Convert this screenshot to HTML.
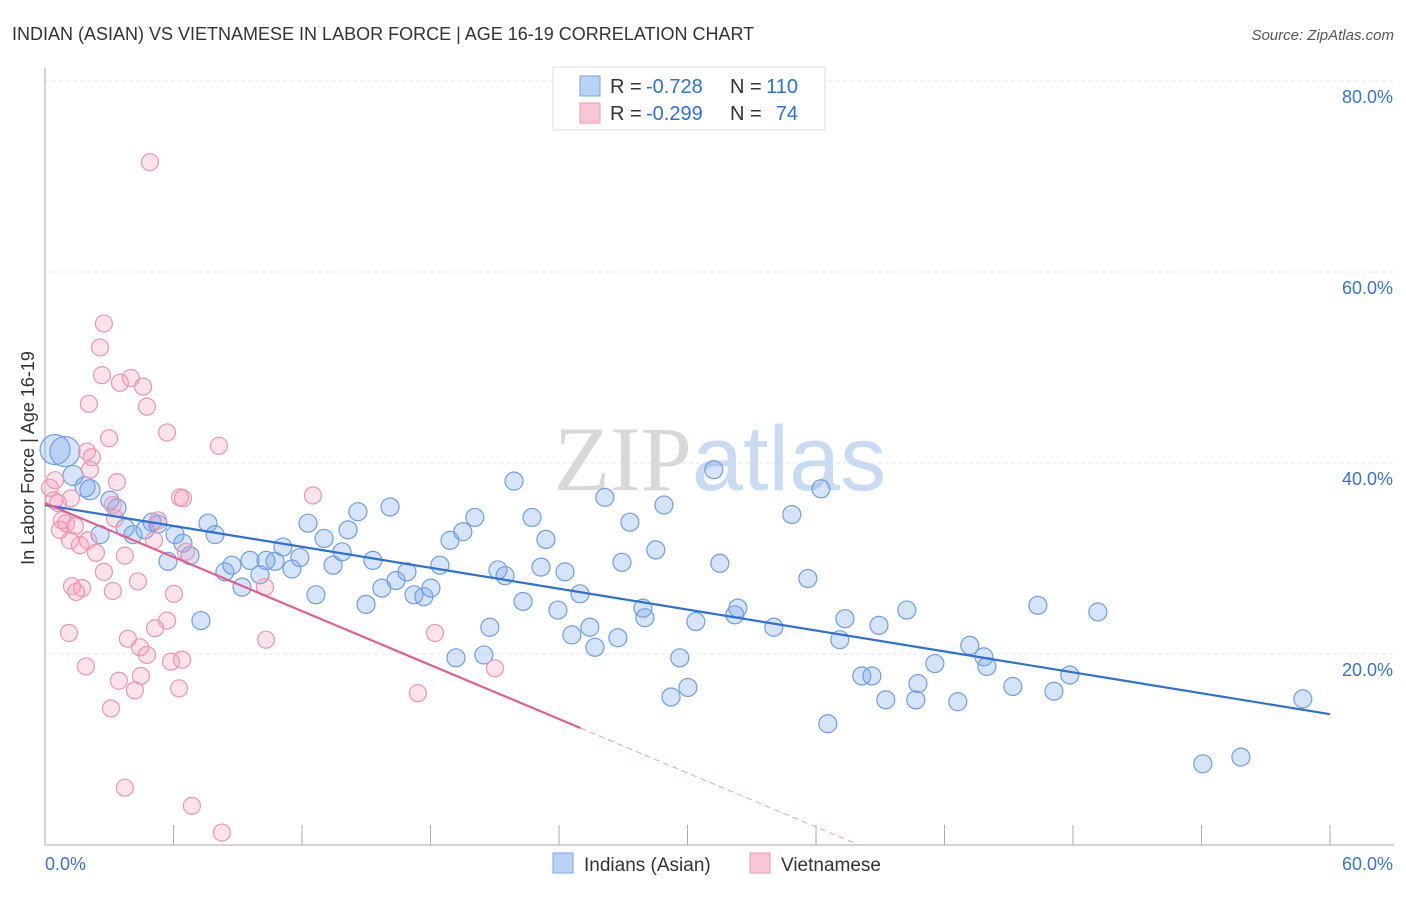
<!DOCTYPE html>
<html><head><meta charset="utf-8">
<style>
body{margin:0;background:#fff;font-family:"Liberation Sans",sans-serif;}
svg text{font-family:"Liberation Sans",sans-serif;}
</style></head>
<body>
<svg id="chart" width="1406" height="892" xmlns="http://www.w3.org/2000/svg">
<text x="12" y="40" font-size="18" fill="#333">INDIAN (ASIAN) VS VIETNAMESE IN LABOR FORCE | AGE 16-19 CORRELATION CHART</text>
<text x="1394" y="40" font-size="15" fill="#555" font-style="italic" text-anchor="end">Source: ZipAtlas.com</text>
<g id="grid"></g>
<text x="720" y="490" font-size="92" text-anchor="middle"><tspan fill="#d8d8d8" font-family="Liberation Serif">ZIP</tspan><tspan fill="#c9daf3">atlas</tspan></text>
<text transform="translate(34,458) rotate(-90)" font-size="18" fill="#333" text-anchor="middle">In Labor Force | Age 16-19</text>
<g id="marks"></g>
<g>
<rect x="553" y="67" width="272" height="63" fill="#fff" stroke="#ddd"/>
<rect x="580" y="76" width="20" height="20" fill="#b9d3f5" stroke="#7aa6e6"/>
<rect x="580" y="103" width="20" height="20" fill="#f8c6d5" stroke="#ec9ab5"/>
<text x="610" y="93" font-size="20" fill="#333">R =</text>
<text x="646" y="93" font-size="20" fill="#2f6fd6">-0.728</text>
<text x="730" y="93" font-size="20" fill="#333">N =</text>
<text x="798" y="93" font-size="20" fill="#2f6fd6" text-anchor="end">110</text>
<text x="610" y="120" font-size="20" fill="#333">R =</text>
<text x="646" y="120" font-size="20" fill="#2f6fd6">-0.299</text>
<text x="730" y="120" font-size="20" fill="#333">N =</text>
<text x="798" y="120" font-size="20" fill="#2f6fd6" text-anchor="end">74</text>
</g>
<g>
<rect x="553" y="853" width="20" height="20" fill="#b9d3f5" stroke="#7aa6e6"/>
<text x="584" y="871" font-size="19" fill="#333">Indians (Asian)</text>
<rect x="750" y="853" width="20" height="20" fill="#f8c6d5" stroke="#ec9ab5"/>
<text x="781" y="871" font-size="19" fill="#333">Vietnamese</text>
</g>
</svg>
<script>
const blueX=[0.47,0.93,1.31,1.87,2.10,2.57,3.03,3.36,3.74,4.11,4.67,5.00,5.28,5.74,6.07,6.44,6.77,7.28,7.61,7.94,8.40,8.73,9.20,9.57,10.04,10.32,10.74,11.11,11.53,11.90,12.28,12.65,13.03,13.45,13.87,14.15,14.61,14.99,15.31,15.73,16.11,16.39,16.90,17.23,17.69,18.02,18.44,18.91,19.19,19.51,20.07,20.49,20.77,21.15,21.48,21.90,22.32,22.74,23.16,23.39,23.95,24.28,24.60,24.98,25.44,25.68,26.14,26.75,26.94,27.31,27.92,28.01,28.52,28.90,29.23,29.64,30.02,30.39,31.23,31.51,32.21,32.35,34.03,34.87,35.62,36.23,36.55,37.11,37.35,38.14,38.61,38.94,39.26,40.24,40.66,40.76,41.55,42.62,43.18,43.84,43.98,45.19,46.36,47.11,47.85,49.16,54.06,55.84,58.73];
const blueY=[41.4,41.2,38.7,37.5,37.2,32.5,36.1,35.3,33.2,32.5,33.0,33.8,33.6,29.7,32.5,31.6,30.3,23.5,33.7,32.5,28.6,29.3,27.0,29.8,28.3,29.8,29.7,31.2,28.9,30.1,33.7,26.2,32.1,29.3,30.7,33.0,34.9,25.2,29.8,26.9,35.4,27.7,28.6,26.2,26.0,26.9,29.3,31.9,19.6,32.8,34.3,19.9,22.8,28.8,28.2,38.1,25.5,34.3,29.1,32.0,24.6,28.6,22.0,26.3,22.8,20.7,36.4,21.7,29.6,33.8,24.8,23.8,30.9,35.6,15.5,19.6,16.5,23.4,39.3,29.5,24.1,24.8,22.8,34.6,27.9,37.3,12.7,21.5,23.7,17.7,17.7,23.0,15.2,24.6,15.2,16.9,19.0,15.0,20.9,19.7,18.7,16.6,25.1,16.1,17.8,24.4,8.5,9.2,15.3];
const pinkX=[4.90,2.75,2.57,2.66,2.05,3.50,4.01,4.58,4.76,2.99,5.70,8.12,1.96,2.19,2.10,3.36,1.21,0.47,0.23,0.42,0.61,0.79,0.98,1.40,0.70,1.17,1.63,2.01,2.38,3.17,3.27,3.73,5.09,5.28,6.58,6.30,6.44,12.51,2.75,4.34,6.02,1.26,1.73,1.45,3.17,5.70,5.14,1.12,3.87,4.44,4.76,1.91,3.45,5.88,6.40,4.48,4.20,6.26,3.08,10.32,10.27,18.21,21.01,17.41,3.73,6.86,8.26];
const pinkY=[71.5,54.6,52.1,49.2,46.2,48.4,48.9,48.0,45.9,42.6,43.2,41.8,41.2,40.6,39.3,38.0,36.3,38.2,37.4,36.1,35.8,34.0,33.7,33.4,33.0,31.9,31.4,31.9,30.6,35.6,34.2,30.3,31.9,34.0,30.7,36.4,36.3,36.6,28.6,27.6,26.3,27.1,26.9,26.5,26.6,23.5,22.7,22.2,21.6,20.7,19.9,18.7,17.2,19.2,19.4,17.7,16.2,16.4,14.3,21.5,27.0,22.2,18.5,15.9,6.0,4.1,1.3];
const blueTrend=[35.6,13.7];
const pinkTrend=[35.8,12.25,25];
const yTicks=[20,40,60,80];
const yTickLabels=["20.0%","40.0%","60.0%","80.0%"];
const xTicks=[0,6,12,18,24,30,36,42,48,54,60];

const NS="http://www.w3.org/2000/svg";
const sx=v=>45+v*(1285/60);
const sy=v=>845-v*(764/80);
function mk(tag,attrs,parent){const e=document.createElementNS(NS,tag);for(const k in attrs)e.setAttribute(k,attrs[k]);parent.appendChild(e);return e;}
const grid=document.getElementById('grid'),marks=document.getElementById('marks');
yTicks.forEach((t,i)=>{
  const l=mk('line',{x1:45,x2:1394,y1:sy(t),y2:sy(t),stroke:'#e4e4e4','stroke-dasharray':'4,3'},grid);
  
  
  const tx=mk('text',{x:1393,y:sy(t)+22,'font-size':18,fill:'#3a72d4','text-anchor':'end'},grid);
  tx.textContent=yTickLabels[i];
  
  
});
const ax=mk('line',{x1:45,x2:45,y1:68,y2:845,stroke:'#aaa'},grid);


const bx=mk('line',{x1:45,x2:1394,y1:845,y2:845,stroke:'#aaa'},grid);


xTicks.forEach(t=>{
  const l=mk('line',{x1:sx(t),x2:sx(t),y1:825,y2:845,stroke:'#aaa'},grid);
  
  
});
const x0=mk('text',{x:45,y:870,'font-size':18,fill:'#3a72d4'},grid);x0.textContent='0.0%';


const x1=mk('text',{x:1393,y:870,'font-size':18,fill:'#3a72d4','text-anchor':'end'},grid);x1.textContent='60.0%';



blueX.forEach((x,i)=>{
  const c=mk('circle',{cx:sx(x),cy:sy(blueY[i]),r:i<2?15:(i<5?10:9),fill:'rgba(120,165,235,0.3)',stroke:'#6f9ee3','stroke-width':1.2},marks);
  
  
});
pinkX.forEach((x,i)=>{
  const c=mk('circle',{cx:sx(x),cy:sy(pinkY[i]),r:8.5,fill:'rgba(245,160,190,0.3)',stroke:'#eb96b4','stroke-width':1.2},marks);
  
  
});
const bl=mk('line',{x1:sx(0),y1:sy(blueTrend[0]),x2:sx(60),y2:sy(blueTrend[1]),stroke:'#2f6fd6','stroke-width':2.2},marks);


const slope=(pinkTrend[1]-pinkTrend[0])/pinkTrend[2];
const pl=mk('line',{x1:sx(0),y1:sy(pinkTrend[0]),x2:sx(pinkTrend[2]),y2:sy(pinkTrend[1]),stroke:'#e0608e','stroke-width':2.2},marks);


const xz=-pinkTrend[0]/slope;
const pd=mk('line',{x1:sx(pinkTrend[2]),y1:sy(pinkTrend[1]),x2:sx(xz),y2:sy(0),stroke:'#e8a0b8','stroke-width':1,'stroke-dasharray':'6,4'},marks);


</script>
</body></html>
